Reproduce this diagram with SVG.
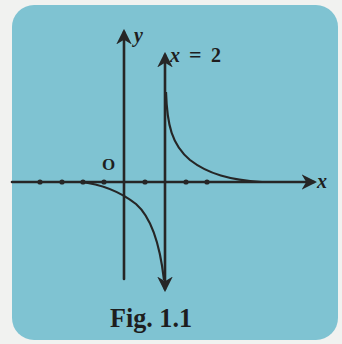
<svg xmlns="http://www.w3.org/2000/svg" width="342" height="344" viewBox="0 0 342 344">
<defs>
<style>
.ax{stroke:#262626;stroke-width:2.6;fill:none;stroke-linecap:round}
.cv{stroke:#262626;stroke-width:2.2;fill:none}
.lbl{font-family:"Liberation Serif",serif;fill:#1e1e1e}
.dot{fill:#262626}
</style>
<marker id="ah" viewBox="0 0 10 10" refX="8" refY="5" markerWidth="6" markerHeight="6" orient="auto-start-reverse" markerUnits="strokeWidth">
<path d="M0,0 L10,5 L0,10 L3,5 z" fill="#262626"/>
</marker>
</defs>
<rect x="0" y="0" width="342" height="344" fill="#f1f2f0"/>
<rect id="panel" x="12" y="5" width="326" height="335" rx="22" ry="22" fill="#7fc3d2"/>
<g id="connectors">
<line id="x-axis" class="ax" x1="12" y1="182" x2="314" y2="182" marker-end="url(#ah)"/>
<line id="y-axis" class="ax" x1="124" y1="279" x2="124" y2="32" marker-end="url(#ah)"/>
<line id="asymptote" class="ax" x1="165" y1="289" x2="165" y2="55" marker-start="url(#ah)" marker-end="url(#ah)"/>
<path id="branch-right" class="cv" d="M166,92 C167,125 172,145 190,160 C208,174 230,180 262,182"/>
<path id="branch-left" class="cv" d="M80,182 C100,184 118,190 136,204 C152,218 160,245 164,280"/>
</g>
<g id="ticks">
<circle class="dot" cx="40" cy="182" r="2.6"/>
<circle class="dot" cx="62" cy="182" r="2.6"/>
<circle class="dot" cx="83" cy="182" r="2.6"/>
<circle class="dot" cx="104" cy="182" r="2.6"/>
<circle class="dot" cx="145" cy="182" r="2.6"/>
<circle class="dot" cx="186" cy="182" r="2.6"/>
<circle class="dot" cx="207" cy="182" r="2.6"/>
</g>
<g id="label-y"><text class="lbl" x="134" y="42" font-size="20" font-style="italic" font-weight="bold">y</text></g>
<g id="label-x2"><text class="lbl" y="62" font-size="20" font-weight="bold"><tspan x="170" font-style="italic">x</tspan><tspan x="189" font-size="22">=</tspan><tspan x="211">2</tspan></text></g>
<g id="label-o"><text class="lbl" x="102" y="170" font-size="17" font-weight="bold">O</text></g>
<g id="label-x"><text class="lbl" x="317" y="188" font-size="20" font-style="italic" font-weight="bold">x</text></g>
<g id="caption"><text class="lbl" x="110" y="327" font-size="27" font-weight="bold" textLength="82" lengthAdjust="spacingAndGlyphs">Fig. 1.1</text></g>
</svg>
